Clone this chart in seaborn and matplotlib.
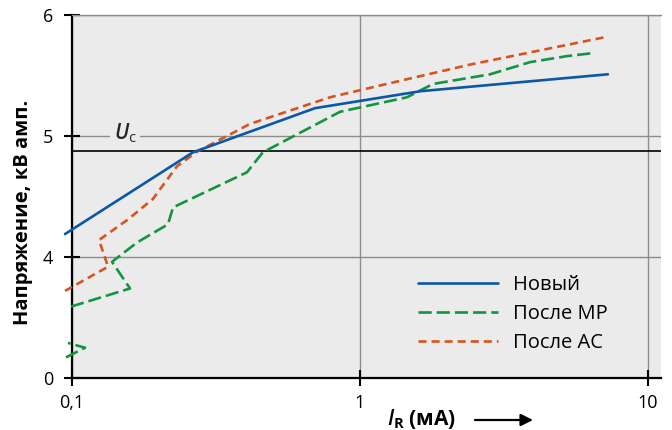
import matplotlib
matplotlib.use("Agg")
import matplotlib.pyplot as plt
from matplotlib.ticker import NullLocator, FixedLocator, FixedFormatter
import seaborn as sns

# ---- data ----
new_x = [0.0946, 0.263, 0.698, 1.62, 7.26]
new_y = [4.19, 4.865, 5.23, 5.37, 5.51]

mp_x = [0.0992, 0.159, 0.1377, 0.1682, 0.2154, 0.2243, 0.405, 0.460, 0.852,
        1.456, 1.793, 2.83, 3.89, 5.23, 6.44]
mp_y = [3.59, 3.74, 3.96, 4.12, 4.27, 4.41, 4.70, 4.865, 5.20,
        5.32, 5.43, 5.51, 5.61, 5.66, 5.685]
mp_tail_x = [0.0953, 0.111, 0.0968]
mp_tail_y = [3.17, 3.25, 3.29]

ac_x = [0.0946, 0.1334, 0.1241, 0.1564, 0.191, 0.2315, 0.2716, 0.415, 0.787,
        1.344, 2.41, 7.21]
ac_y = [3.72, 3.92, 4.14, 4.31, 4.48, 4.75, 4.87, 5.10, 5.32,
        5.45, 5.59, 5.82]

series_labels = ["Новый", "После МР", "После АС"]
uc_value = 4.878
uc_label = r"$U_\mathrm{c}$"
ytick_vals = [3, 4, 5, 6]
ytick_labels = ["0", "4", "5", "6"]
xtick_vals = [0.1, 1, 10]
xtick_labels = ["0,1", "1", "10"]
ylabel = "Напряжение, кВ амп."
xlabel = r"$I_\mathbf{R}$ (мА)"

# ---- style ----
sns.set_theme(style="white")
plt.rcParams["font.family"] = ["Open Sans", "DejaVu Sans"]
plt.rcParams["mathtext.fontset"] = "custom"
plt.rcParams["mathtext.rm"] = "Open Sans"
plt.rcParams["mathtext.it"] = "Open Sans:italic:semibold"
plt.rcParams["mathtext.bf"] = "Open Sans:bold"
plt.rcParams["lines.scale_dashes"] = False

BLUE = "#0b58a6"
GREEN = "#13943f"
RED = "#d9531f"
BG = "#ebebeb"
GRID = "#8c8c8c"

fig = plt.figure(figsize=(6.72, 4.30), dpi=100)
ax = fig.add_axes([72 / 672, 1 - 378 / 430, 589 / 672, 363 / 430])
ax.set_facecolor(BG)
ax.set_xscale("log")
ax.set_xlim(0.1, 11.1)
ax.set_ylim(3, 6)

ax.xaxis.set_major_locator(FixedLocator(xtick_vals))
ax.xaxis.set_major_formatter(FixedFormatter(xtick_labels))
ax.xaxis.set_minor_locator(NullLocator())
ax.yaxis.set_major_locator(FixedLocator(ytick_vals))
ax.yaxis.set_major_formatter(FixedFormatter(ytick_labels))
ax.yaxis.set_minor_locator(NullLocator())

ax.grid(True, which="major", color=GRID, lw=1.0)
ax.set_axisbelow(True)

ax.axhline(uc_value, color="black", lw=1.2, zorder=2)

lw = 1.9
sns.lineplot(x=new_x, y=new_y, sort=False, estimator=None, ax=ax, color=BLUE,
             lw=lw, label=series_labels[0], clip_on=False, zorder=4)
sns.lineplot(x=mp_x, y=mp_y, sort=False, estimator=None, ax=ax, color=GREEN,
             lw=lw, label=series_labels[1], clip_on=False, zorder=3,
             linestyle=(0, (9.5, 3.6)))
sns.lineplot(x=mp_tail_x, y=mp_tail_y, sort=False, estimator=None, ax=ax,
             color=GREEN, lw=lw, label="_nolegend_", clip_on=False, zorder=3,
             linestyle=(0, (9.5, 3.6)))
sns.lineplot(x=ac_x, y=ac_y, sort=False, estimator=None, ax=ax, color=RED,
             lw=lw, label=series_labels[2], clip_on=False, zorder=3,
             linestyle=(0, (5.8, 3.6)))

ax.text(0.1528, 4.975, uc_label, ha="center", va="baseline", fontsize=15,
        bbox=dict(facecolor=BG, edgecolor="none", pad=2.5), zorder=2.5)

for s in ["left", "bottom"]:
    ax.spines[s].set_color("black")
    ax.spines[s].set_linewidth(1.6)
ax.spines["top"].set_color(GRID)
ax.spines["top"].set_linewidth(1.0)
ax.spines["right"].set_visible(False)

ax.tick_params(axis="both", which="major", direction="inout", length=11,
               width=1.5, color="black", labelsize=13, labelcolor="black",
               left=True, bottom=True, top=False, right=False)
ax.tick_params(axis="y", pad=8)
ax.tick_params(axis="x", pad=6)

ax.set_ylabel(ylabel, fontsize=14.5, fontweight="bold", color="black")
ax.yaxis.set_label_coords(-0.066, 0.457)
ax.set_xlabel("")
fig.text(422 / 672, 1 - 419 / 430, xlabel, ha="center", va="center",
         fontsize=15, fontweight="bold", color="black")
ax.annotate("", xy=(533 / 672, 1 - 420 / 430), xytext=(475 / 672, 1 - 420 / 430),
            xycoords="figure fraction", textcoords="figure fraction",
            arrowprops=dict(arrowstyle="-|>", color="black", lw=1.6,
                            mutation_scale=18, shrinkA=0, shrinkB=0))

leg = ax.legend(loc="upper left", bbox_to_anchor=(0.587, 0.284), frameon=False,
                fontsize=14.5, handlelength=4.0, handletextpad=0.75,
                labelspacing=0.44, borderpad=0, borderaxespad=0)
for t in leg.get_texts():
    t.set_color("black")

fig.savefig("out.png", dpi=100, facecolor="white")
